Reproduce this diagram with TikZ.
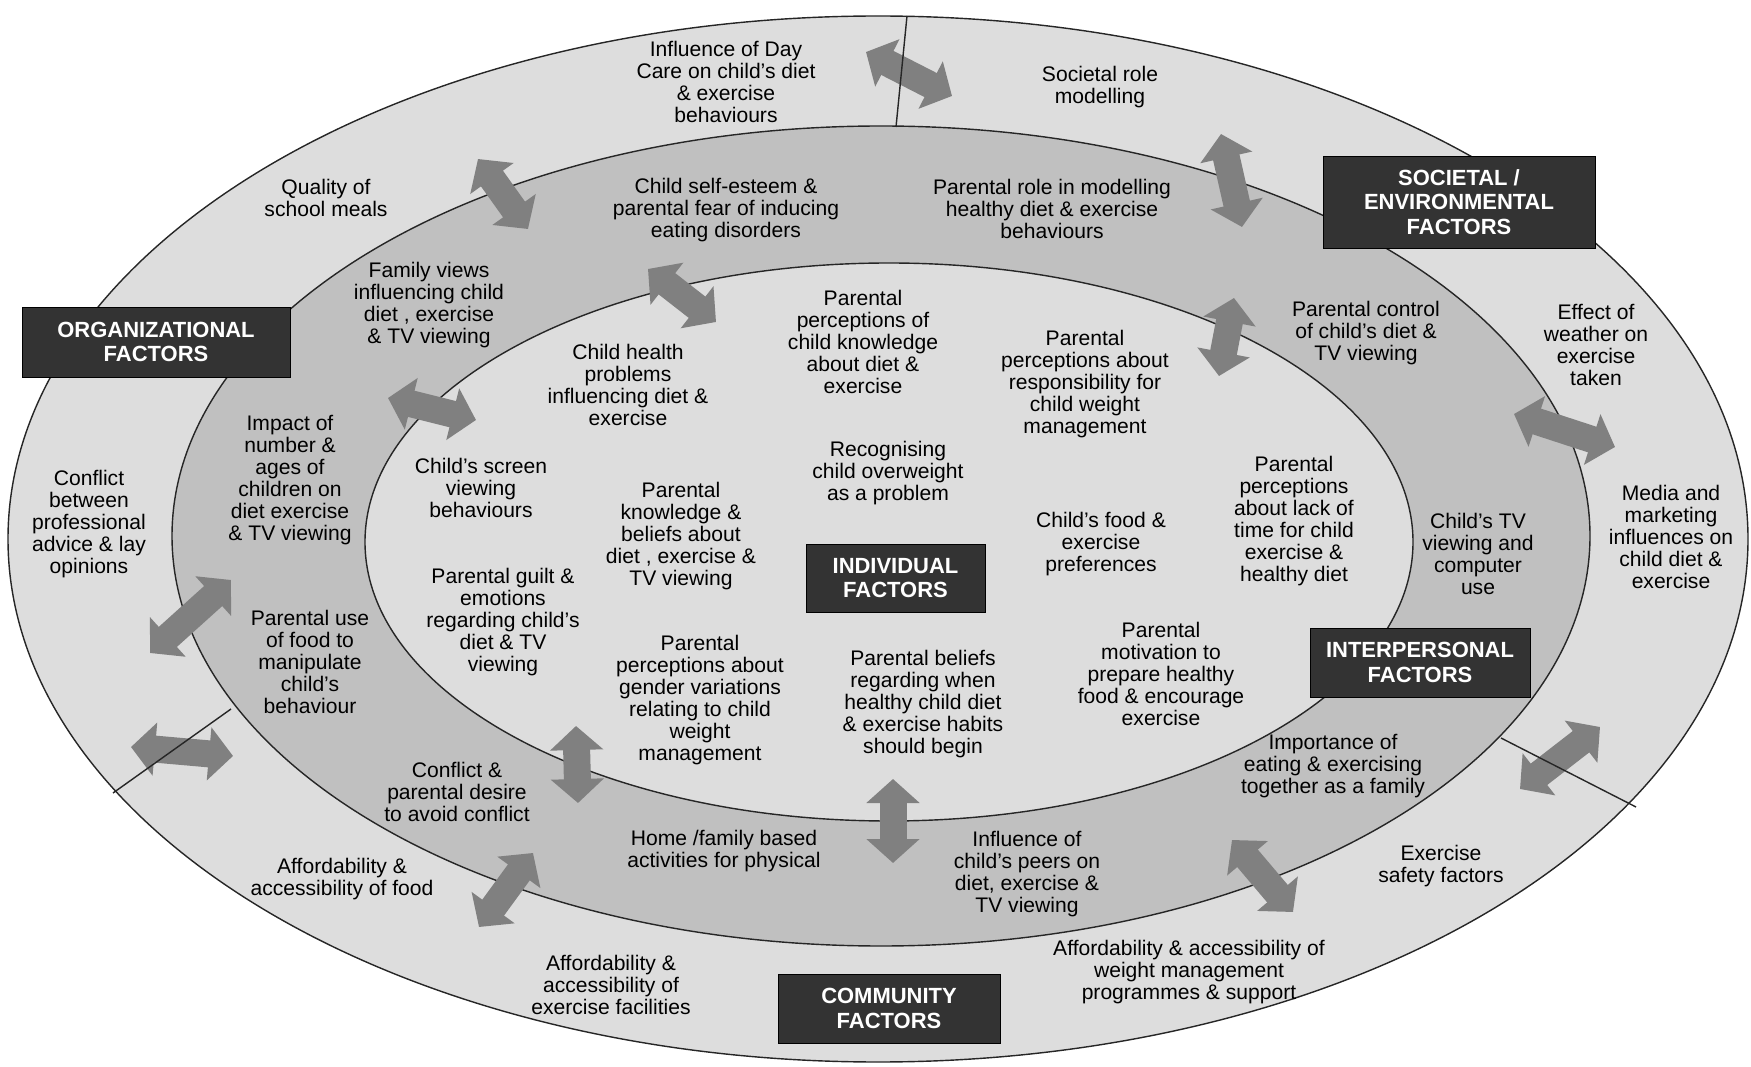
\documentclass[tikz,border=0pt]{standalone}
\usepackage{fontspec}
\setmainfont{Liberation Sans}
\usepackage{tikz}
\usetikzlibrary{arrows.meta}

\definecolor{ringlight}{RGB}{221,221,221}
\definecolor{ringmid}{RGB}{192,192,192}
\definecolor{arrowgray}{RGB}{128,128,128}
\definecolor{boxgray}{RGB}{51,51,51}

\begin{document}
\begin{tikzpicture}[
    x=0.2mm, y=-0.2mm,
    every node/.style={font=\fontsize{12}{12.5}\selectfont},
    txt/.style={align=center,inner sep=0pt},
    fbox/.style={draw=black,fill=boxgray,text=white,align=center,inner sep=0pt,
                 font=\fontsize{12.5}{14}\selectfont\bfseries},
    dbl/.style={draw=arrowgray,line width=5.4mm,
                {Triangle[length=4.8mm,width=10.4mm]}-{Triangle[length=4.8mm,width=10.4mm]}},
    rim/.style={draw=black!85,line width=0.8pt},
  ]
  \useasboundingbox (0,0) rectangle (1751,1067);

  % -- the three rings --
  \filldraw[rim,fill=ringlight] (878,539) ellipse [x radius=870,y radius=523];
  \filldraw[rim,fill=ringmid]   (881,536) ellipse [x radius=709,y radius=410];
  \filldraw[rim,fill=ringlight] (889,542) ellipse [x radius=524,y radius=279];

  % -- two-way influences across the rings --
  \foreach \xa/\ya/\xb/\yb in {866/52/952/96, 478/159/528/229, 1221/134/1242/227,
      648/269/716/322, 1234/298/1219/376, 388/398/476/420, 1514/414/1615/447,
      150/653/231/580, 131/747/233/756, 576/726/578/803, 533/853/479/927,
      893/779/893/863, 1232/840/1293/912, 1600/727/1520/789}
    \draw[dbl] (\xa,\ya) -- (\xb,\yb);

  % -- splits of the outer ring --
  \draw[rim] (907,16) -- (896,127);
  \draw[rim] (231,709) -- (113,793);
  \draw[rim] (1501,738) -- (1636,807);

  % -- outer ring --
  \node[txt] (daycare) at (726,82) {Influence of Day\\Care on child's diet\\\& exercise\\behaviours};
  \node[txt] (rolemod) at (1100,87) {Societal role\\modelling};
  \node[txt] (meals) at (326,198) {Quality of\\school meals};
  \node[txt] (weather) at (1596,345) {Effect of\\weather on\\exercise\\taken};
  \node[txt] (advice) at (89,524) {Conflict\\between\\professional\\advice \& lay\\opinions};
  \node[txt] (media) at (1671,537) {Media and\\marketing\\influences on\\child diet \&\\exercise};
  \node[txt] (foodacc) at (342,879) {Affordability \&\\accessibility of food};
  \node[txt] (safety) at (1441,866) {Exercise\\safety factors};
  \node[txt] (facil) at (611,985) {Affordability \&\\accessibility of\\exercise facilities};
  \node[txt] (progs) at (1189,972) {Affordability \& accessibility of\\weight management\\programmes \& support};

  % -- middle ring --
  \node[txt] (esteem) at (726,210) {Child self-esteem \&\\parental fear of inducing\\eating disorders};
  \node[txt] (parrole) at (1052,209) {Parental role in modelling\\healthy diet \& exercise\\behaviours};
  \node[txt] (famviews) at (429,305) {Family views\\influencing child\\diet , exercise\\\& TV viewing};
  \node[txt] (control) at (1366,333) {Parental control\\of child's diet \&\\TV viewing};
  \node[txt] (siblings) at (290,480) {Impact of\\number \&\\ages of\\children on\\diet exercise\\\& TV viewing};
  \node[txt] (tvuse) at (1478,554) {Child's TV\\viewing and\\computer\\use};
  \node[txt] (foodmanip) at (310,662) {Parental use\\of food to\\manipulate\\child's\\behaviour};
  \node[txt] (conflict) at (457,792) {Conflict \&\\parental desire\\to avoid conflict};
  \node[txt] (together) at (1333,766) {Importance of\\eating \& exercising\\together as a family};
  \node[txt] (homeact) at (724,851) {Home /family based\\activities for physical};
  \node[txt] (peers) at (1027,874) {Influence of\\child's peers on\\diet, exercise \&\\TV viewing};

  % -- inner ring --
  \node[txt] (knowl) at (863,342) {Parental\\perceptions of\\child knowledge\\about diet \&\\exercise};
  \node[txt] (respons) at (1085,384) {Parental\\perceptions about\\responsibility for\\child weight\\management};
  \node[txt] (health) at (628,385) {Child health\\problems\\influencing diet \&\\exercise};
  \node[txt] (screen) at (481,488) {Child's screen\\viewing\\behaviours};
  \node[txt] (recog) at (888,473) {Recognising\\child overweight\\as a problem};
  \node[txt] (lacktime) at (1294,521) {Parental\\perceptions\\about lack of\\time for child\\exercise \&\\healthy diet};
  \node[txt] (beliefs) at (681,536) {Parental\\knowledge \&\\beliefs about\\diet , exercise \&\\TV viewing};
  \node[txt] (prefs) at (1101,544) {Child's food \&\\exercise\\preferences};
  \node[txt] (guilt) at (503,622) {Parental guilt \&\\emotions\\regarding child's\\diet \& TV\\viewing};
  \node[txt] (gender) at (700,700) {Parental\\perceptions about\\gender variations\\relating to child\\weight\\management};
  \node[txt] (habits) at (923,704) {Parental beliefs\\regarding when\\healthy child diet\\\& exercise habits\\should begin};
  \node[txt] (motiv) at (1161,674) {Parental\\motivation to\\prepare healthy\\food \& encourage\\exercise};

  % -- level labels --
  \node[fbox,minimum width=53.6mm,minimum height=14mm] (org) at (156,342) {ORGANIZATIONAL\\FACTORS};
  \node[fbox,minimum width=54.4mm,minimum height=18.4mm] (soc) at (1459,202) {SOCIETAL /\\ENVIRONMENTAL\\FACTORS};
  \node[fbox,minimum width=35.8mm,minimum height=13.6mm] (ind) at (895.5,578) {INDIVIDUAL\\FACTORS};
  \node[fbox,minimum width=44mm,minimum height=13.8mm] (inter) at (1420,662.5) {INTERPERSONAL\\FACTORS};
  \node[fbox,minimum width=44.4mm,minimum height=13.8mm] (comm) at (889,1008.5) {COMMUNITY\\FACTORS};
\end{tikzpicture}
\end{document}
